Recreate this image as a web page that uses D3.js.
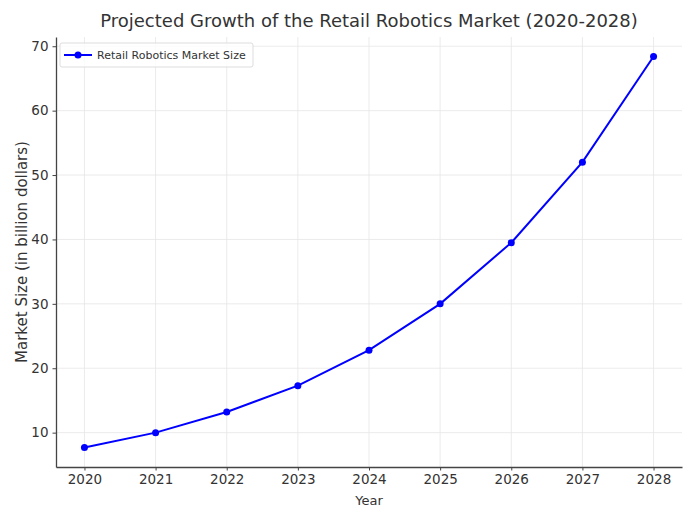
<!DOCTYPE html>
<html>
<head>
<meta charset="utf-8">
<script src="https://cdn.jsdelivr.net/npm/d3@7"></script>
<style>
  body { margin: 0; background: #fff; }
  text { font-family: "DejaVu Sans", sans-serif; fill: #333; }
</style>
</head>
<body>
<div id="chart"></div>
<script>
// data
var years = [2020, 2021, 2022, 2023, 2024, 2025, 2026, 2027, 2028];
var marketSize = [7.7, 10.0, 13.2, 17.3, 22.8, 30.0, 39.5, 52.0, 68.4];
var yTicks = [10, 20, 30, 40, 50, 60, 70];
var seriesName = 'Retail Robotics Market Size';

var width = 688, height = 508;
var margin = { top: 37, right: 6, bottom: 41, left: 56 };

var svg = d3.select('#chart').append('svg')
    .attr('width', width).attr('height', height);

// matplotlib style 5% padding round the data
var xPad = (d3.max(years) - d3.min(years)) * 0.05;
var yExt = d3.extent(marketSize);
var yPad = (yExt[1] - yExt[0]) * 0.05;

var x = d3.scaleLinear()
    .domain([d3.min(years) - xPad, d3.max(years) + xPad])
    .range([margin.left, width - margin.right]);
var y = d3.scaleLinear()
    .domain([yExt[0] - yPad, yExt[1] + yPad])
    .range([height - margin.bottom, margin.top]);

// grid
var grid = svg.append('g').attr('class', 'grid');
grid.selectAll('line.v').data(years).enter().append('line')
    .attr('x1', function (d) { return x(d); }).attr('x2', function (d) { return x(d); })
    .attr('y1', margin.top).attr('y2', height - margin.bottom)
    .attr('stroke', '#e6e6e6').attr('stroke-width', 0.8);
grid.selectAll('line.h').data(yTicks).enter().append('line')
    .attr('y1', function (d) { return y(d); }).attr('y2', function (d) { return y(d); })
    .attr('x1', margin.left).attr('x2', width - margin.right)
    .attr('stroke', '#e6e6e6').attr('stroke-width', 0.8);

// axes
var xAxis = svg.append('g')
    .attr('transform', 'translate(0,' + (height - margin.bottom) + ')')
    .call(d3.axisBottom(x).tickValues(years).tickFormat(d3.format('d')).tickSize(3.5).tickPadding(4).tickSizeOuter(0));
var yAxis = svg.append('g')
    .attr('transform', 'translate(' + margin.left + ',0)')
    .call(d3.axisLeft(y).tickValues(yTicks).tickSize(3.5).tickPadding(4).tickSizeOuter(0));

[xAxis, yAxis].forEach(function (a) {
    a.select('.domain').attr('stroke', '#444').attr('stroke-width', 1.3);
    a.selectAll('.tick line').attr('stroke', '#444');
    a.selectAll('.tick text').style('font-size', '13.5px').attr('fill', '#333');
});

// line + markers
var line = d3.line()
    .x(function (d, i) { return x(years[i]); })
    .y(function (d) { return y(d); });

svg.append('path')
    .datum(marketSize)
    .attr('fill', 'none')
    .attr('stroke', '#0000ff')
    .attr('stroke-width', 2)
    .attr('d', line);

svg.selectAll('circle.pt').data(marketSize).enter().append('circle')
    .attr('class', 'pt')
    .attr('cx', function (d, i) { return x(years[i]); })
    .attr('cy', function (d) { return y(d); })
    .attr('r', 3.5)
    .attr('fill', '#0000ff');

// title and labels
svg.append('text')
    .attr('x', (margin.left + width - margin.right) / 2).attr('y', 27)
    .attr('text-anchor', 'middle')
    .style('font-size', '18px')
    .text('Projected Growth of the Retail Robotics Market (2020-2028)');

svg.append('text')
    .attr('x', (margin.left + width - margin.right) / 2).attr('y', 505)
    .attr('text-anchor', 'middle')
    .style('font-size', '13px')
    .text('Year');

svg.append('text')
    .attr('transform', 'translate(27,' + ((margin.top + height - margin.bottom) / 2) + ') rotate(-90)')
    .attr('text-anchor', 'middle')
    .style('font-size', '15px')
    .text('Market Size (in billion dollars)');

// legend
var lg = svg.append('g').attr('transform', 'translate(60,43)');
lg.append('rect')
    .attr('width', 193).attr('height', 24).attr('rx', 2)
    .attr('fill', '#fff').attr('fill-opacity', 0.8)
    .attr('stroke', '#ddd');
lg.append('line')
    .attr('x1', 4).attr('x2', 32).attr('y1', 12).attr('y2', 12)
    .attr('stroke', '#0000ff').attr('stroke-width', 2);
lg.append('circle').attr('cx', 18).attr('cy', 12).attr('r', 3.5).attr('fill', '#0000ff');
lg.append('text')
    .attr('x', 37).attr('y', 16)
    .style('font-size', '11px')
    .text(seriesName);
</script>
</body>
</html>
